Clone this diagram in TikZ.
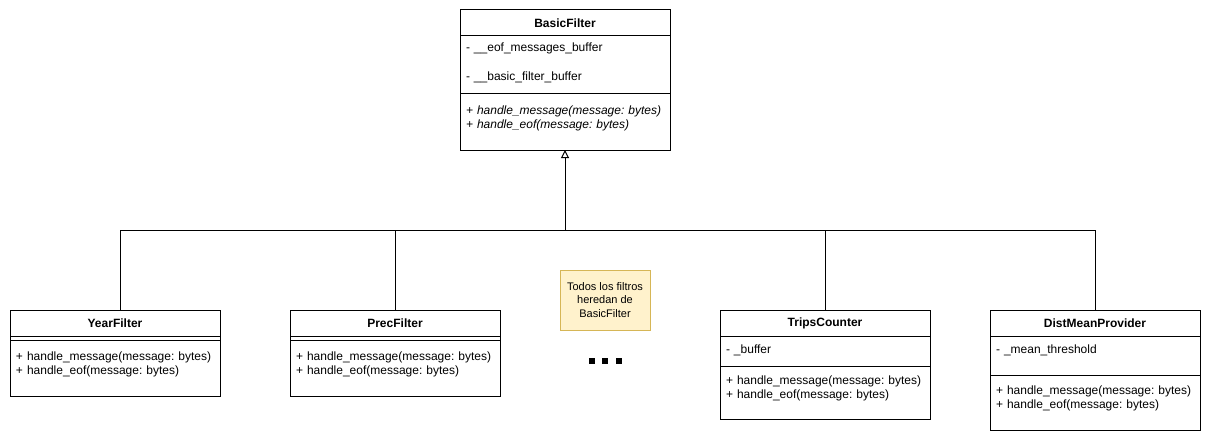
\documentclass[tikz,border=0pt]{standalone}
\usepackage{fontspec}
\setmainfont{Liberation Sans}
\usetikzlibrary{positioning,arrows.meta}
\definecolor{notefill}{HTML}{FFF2CC}
\definecolor{noteline}{HTML}{D6B656}
\frenchspacing

\begin{document}
\begin{tikzpicture}[x=1pt,y=-1pt,line width=1pt,
  classname/.style={draw,minimum width=210pt,minimum height=26pt,inner sep=0pt,outer sep=0pt,
    font=\fontsize{12}{14}\selectfont\bfseries},
  compart/.style 2 args={draw,anchor=north,text width=198pt,inner xsep=6pt,inner ysep=0pt,outer sep=0pt,
    align=left,font=\fontsize{12}{14}\selectfont,text height=#1,text depth=#2},
  inherit/.style={-{Triangle[open,length=8pt,width=8pt]}},
  notebox/.style={draw=noteline,fill=notefill,minimum width=90pt,minimum height=60pt,inner sep=0pt,
    align=center,font=\fontsize{11}{13.5}\selectfont}]
\useasboundingbox (0,0) rectangle (1211,444);

% parent class
\node[classname] (basic) at (565,23) {BasicFilter};
\node[compart={16pt}{42pt},below=0pt of basic] (basicattr)
    {- \_\_eof\_messages\_buffer\\[15pt]- \_\_basic\_filter\_buffer};
\node[compart={20pt}{36pt},below=0pt of basicattr,font=\fontsize{12}{14}\selectfont\itshape] (basicops)
    {+ handle\_message(message: bytes)\\+ handle\_eof(message: bytes)};

% subclasses
\node[classname] (year) at (115,323) {YearFilter};
\node[compart={0pt}{4pt},below=0pt of year] (yearattr) {};
\node[compart={20pt}{36pt},below=0pt of yearattr] (yearops)
    {+ handle\_message(message: bytes)\\+ handle\_eof(message: bytes)};

\node[classname] (prec) at (395,323) {PrecFilter};
\node[compart={0pt}{4pt},below=0pt of prec] (precattr) {};
\node[compart={20pt}{36pt},below=0pt of precattr] (precops)
    {+ handle\_message(message: bytes)\\+ handle\_eof(message: bytes)};

\node[classname] (trips) at (825,323) {TripsCounter};
\node[compart={17pt}{13pt},below=0pt of trips] (tripsattr) {- \_buffer};
\node[compart={18pt}{35pt},below=0pt of tripsattr] (tripsops)
    {+ handle\_message(message: bytes)\\+ handle\_eof(message: bytes)};

\node[classname] (dist) at (1095,323) {DistMeanProvider};
\node[compart={17pt}{22pt},below=0pt of dist] (distattr) {- \_mean\_threshold};
\node[compart={19pt}{36pt},below=0pt of distattr] (distops)
    {+ handle\_message(message: bytes)\\+ handle\_eof(message: bytes)};

% note and ellipsis
\node[notebox] (hint) at (605,300) {Todos los filtros\\heredan de\\BasicFilter};
\foreach \x in {592,605,619}
  \fill (\x,361) +(-3.3,-3.3) rectangle +(3.3,3.3);

% inheritance
\coordinate (bus) at (565,230);
\draw[inherit] (bus) -- (basicops.south);
\draw ([xshift=5pt]year.north) |- (bus);
\foreach \c in {prec,trips,dist}
  \draw (\c.north) |- (bus);
\end{tikzpicture}
\end{document}
